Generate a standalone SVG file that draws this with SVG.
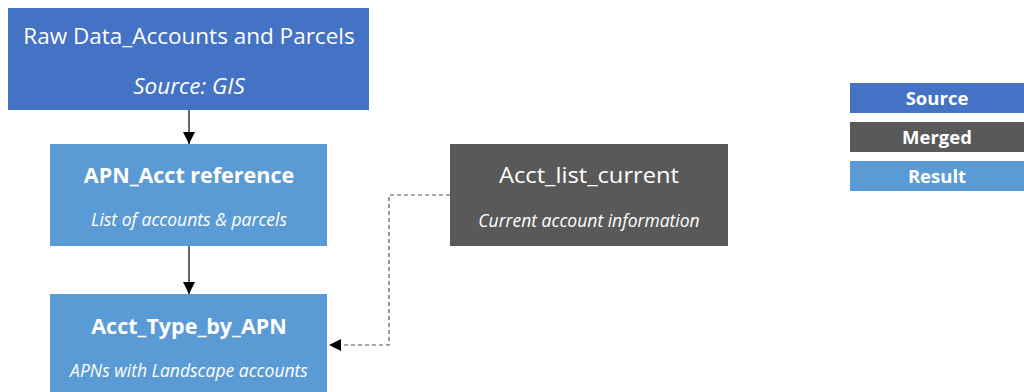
<svg xmlns="http://www.w3.org/2000/svg" width="1024" height="392" viewBox="0 0 1024 392">
<style>
text{font-family:"Open Sans","Liberation Sans",sans-serif;fill:#fff;text-anchor:middle}
.t{font-size:22.5px}
.b{font-size:21.5px;font-weight:bold}
.i{font-size:17.5px;font-style:italic}
.l{font-size:18.5px;font-weight:bold}
.src{fill:#4472C4}.res{fill:#5B9BD5}.mrg{fill:#595959}
.c{stroke:#000;stroke-width:1.2;fill:none}
.d{stroke:#555;stroke-width:1.2;fill:none;stroke-dasharray:4 3}
</style>
<defs>
<marker id="ah" markerWidth="12" markerHeight="12" refX="12" refY="6" orient="auto" markerUnits="userSpaceOnUse">
<path d="M0,0 L12,6 L0,12 Z" fill="#000"/>
</marker>
</defs>
<rect width="1024" height="392" fill="#fff"/>
<g id="raw">
<rect class="src" x="8" y="8" width="361" height="102"/>
<text class="t" x="189" y="44">Raw Data_Accounts and Parcels</text>
<text class="t" x="189" y="94" font-style="italic">Source: GIS</text>
</g>
<g id="apn-acct">
<rect class="res" x="50" y="144" width="277" height="102"/>
<text class="b" x="189" y="183">APN_Acct reference</text>
<text class="i" x="189" y="226">List of accounts &amp; parcels</text>
</g>
<g id="acct-type">
<rect class="res" x="50" y="294" width="277" height="98"/>
<text class="b" x="189" y="334">Acct_Type_by_APN</text>
<text class="i" x="189" y="377">APNs with Landscape accounts</text>
</g>
<g id="acct-list">
<rect class="mrg" x="450" y="144" width="278" height="102"/>
<text class="t" x="589" y="183" textLength="180" lengthAdjust="spacingAndGlyphs">Acct_list_current</text>
<text class="i" x="589" y="227">Current account information</text>
</g>
<g id="legend">
<rect class="src" x="850" y="83" width="174" height="30"/>
<text class="l" x="937" y="105">Source</text>
<rect class="mrg" x="850" y="122" width="174" height="30"/>
<text class="l" x="937" y="144">Merged</text>
<rect class="res" x="850" y="161" width="174" height="30"/>
<text class="l" x="937" y="183">Result</text>
</g>
<g id="connectors">
<line class="c" x1="189" y1="110" x2="189" y2="144" marker-end="url(#ah)"/>
<line class="c" x1="189" y1="246" x2="189" y2="294" marker-end="url(#ah)"/>
<path class="d" d="M450,195 H389 V345 H340"/>
<path d="M329,345 L341,339 L341,351 Z" fill="#000"/>
</g>
</svg>
